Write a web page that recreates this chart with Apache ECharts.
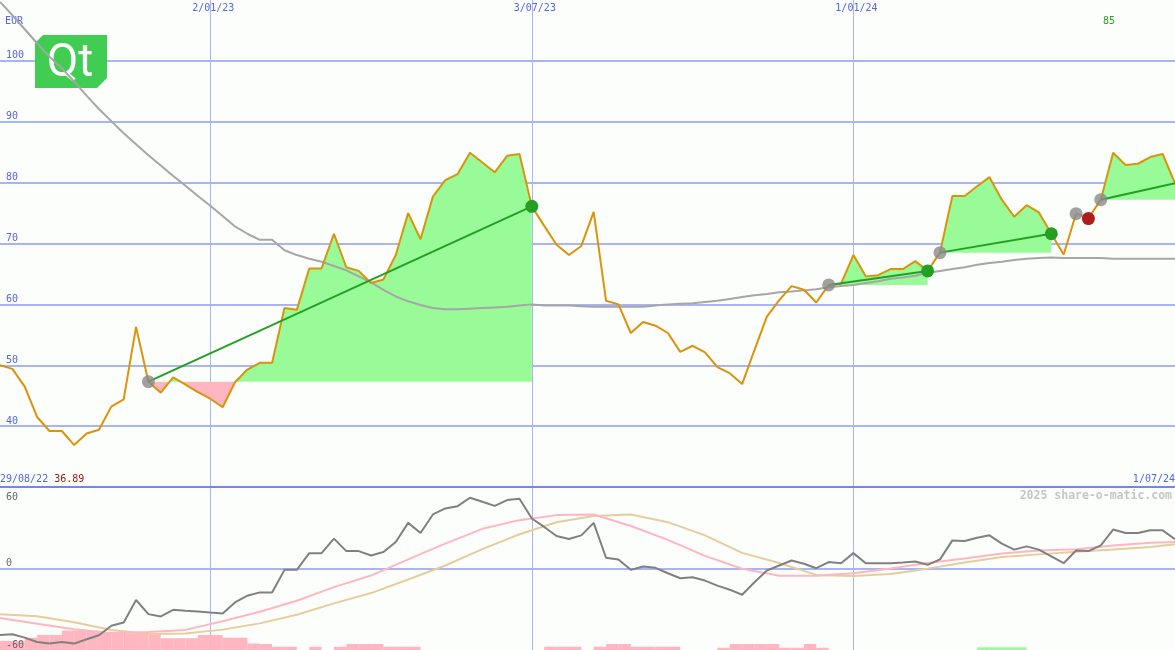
<!DOCTYPE html>
<html><head><meta charset="utf-8">
<script src="https://cdn.jsdelivr.net/npm/echarts@6/dist/echarts.min.js"></script>
<style>html,body{margin:0;padding:0;background:#fcfefc}#c{width:1175px;height:650px}</style>
</head><body><div id="c"></div>
<script>
// ---------- DATA ----------
const price = [
 50.0, 49.4, 46.5, 41.5, 39.2, 39.2, 36.89, 38.8, 39.4, 43.2,
 44.4, 56.3, 47.3, 45.5, 48.0, 46.8, 45.6, 44.5, 43.1, 47.2,
 49.3, 50.4, 50.4, 59.4, 59.1, 65.9, 65.9, 71.6, 66.1, 65.5,
 63.5, 64.1, 68.1, 75.0, 70.7, 77.7, 80.4, 81.4, 84.9, 83.3,
 81.7, 84.4, 84.7, 76.1, 72.9, 69.8, 68.1, 69.6, 75.2, 60.6,
 60.0, 55.3, 57.1, 56.5, 55.3, 52.2, 53.2, 52.1, 49.7, 48.7,
 46.9, 52.5, 58.0, 60.7, 63.0, 62.4, 60.3, 63.2, 63.4, 68.1,
 64.6, 64.8, 65.8, 65.8, 67.1, 65.5, 68.5, 77.8, 77.8, 79.4,
 80.9, 77.2, 74.4, 76.3, 75.1, 71.6, 68.2, 74.9, 74.1, 77.2,
 84.9, 82.9, 83.1, 84.2, 84.7, 79.9
];
const longAverage = [
 109.7, 107.5, 105.2, 102.9, 100.7, 98.8, 96.6, 94.3, 92.1, 90.1,
 88.1, 86.3, 84.5, 82.8, 81.1, 79.5, 77.8, 76.2, 74.5, 72.8,
 71.6, 70.6, 70.6, 68.9, 68.1, 67.5, 67.0, 66.3, 65.6, 64.6,
 63.6, 62.4, 61.3, 60.5, 59.9, 59.4, 59.2, 59.2, 59.3, 59.4,
 59.5, 59.6, 59.8, 60.0, 59.8, 59.8, 59.8, 59.7, 59.6, 59.6,
 59.6, 59.6, 59.6, 59.8, 60.0, 60.1, 60.2, 60.4, 60.6, 60.9,
 61.2, 61.5, 61.7, 62.0, 62.1, 62.3, 62.5, 62.8, 63.0, 63.2,
 63.5, 63.8, 64.2, 64.4, 64.7, 65.2, 65.5, 65.8, 66.1, 66.5,
 66.8, 67.0, 67.3, 67.5, 67.6, 67.7, 67.6, 67.6, 67.6, 67.6,
 67.5, 67.5, 67.5, 67.5, 67.5, 67.5
];
const oscillator = [
 -48.9, -48.4, -50.9, -54.1, -55.3, -54.1, -55.3, -52.1, -49.1, -42.2,
 -39.8, -23.2, -33.6, -35.3, -30.4, -31.1, -31.6, -32.4, -33.1, -25.0,
 -20.0, -17.6, -17.6, -1.0, -1.0, 11.3, 11.3, 22.0, 12.8, 12.8,
 9.6, 12.1, 19.5, 33.6, 26.1, 39.8, 44.2, 45.9, 52.1, 49.1,
 46.1, 50.4, 51.3, 36.8, 30.6, 23.9, 21.7, 24.4, 33.6, 7.9,
 6.7, -1.0, 1.5, 0.5, -3.5, -7.2, -6.4, -8.9, -12.6, -15.6,
 -19.3, -10.1, -1.5, 2.2, 5.9, 3.5, 0.2, 4.7, 3.9, 11.3,
 3.9, 3.9, 3.9, 4.4, 5.2, 2.7, 6.7, 20.7, 20.2, 22.7,
 24.4, 18.3, 13.9, 16.3, 13.9, 8.9, 3.9, 13.3, 12.8, 17.0,
 28.7, 26.1, 26.1, 28.1, 28.1, 21.5
];
const smoothIdx = [0,3,6,9,12,15,18,21,24,27,30,33,36,39,42,45,48,51,54,57,60,63,66,69,72,75,78,81,84,87,90,93,95];
const smoothPink = [-36.5,-40.6,-44.7,-47.5,-46.7,-45.2,-38.9,-31.9,-23.7,-13.7,-5.2,6.7,18.3,29.2,35.6,39.3,39.8,31.3,21.1,9.3,-0.2,-5.3,-5.3,-3.5,0,4.0,7.4,11.0,13.3,14.1,17.0,18.9,19.5];
const smoothTan = [-33.6,-35.2,-39.6,-45.2,-48.3,-47.8,-45.0,-40.4,-34.1,-25.7,-18.1,-8.1,2.2,14.3,25.2,34.1,38.7,39.8,34.1,24.4,11.5,4.1,-4.7,-5.6,-4.1,-0.1,4.4,8.4,10.4,12.4,13.9,15.8,17.8];
const histogram = [
 -6.7, -6.7, -9.1, -11.1, -11.1, -14.3, -14.3, -14.3, -12.8, -12.8,
 -12.4, -12.4, -12.4, -8.7, -8.7, -8.7, -11.1, -11.1, -9.1, -9.1,
 -4.8, -4.4, -2.4, -2.4, 0, -2.4, 0, -2.4, -4.4, -4.4,
 -4.4, -2.4, -2.4, -2.4, 0, 0, 0, 0, 0, 0,
 0, 0, 0, 0, -2.4, -2.4, -2.4, 0, -2.4, -4.4,
 -4.4, -2.4, -2.4, -2.4, -2.4, 0, 0, 0, -1.7, -4.4,
 -4.4, -4.4, -4.4, -1.7, -1.7, -4.4, -1.7, 0, 0, 0,
 0, 0, 0, 0, 0, 0, 0, 0, 0, 2.0,
 2.0, 2.0, 2.0, 0, 0, 0, 0, 0, 0, 0,
 0, 0, 0, 0, 0, 0
];
const tradeEntry = [12, 67, 76, 87, 89];
const tradeExit  = [43, 75, 85, 88, 95];
const tradeClosed = [true, true, true, true, false];
const dateTickIdx = [17, 43, 69];
const dateTickLabels = ['2/01/23', '3/07/23', '1/01/24'];
const rangeTickIdx = [0, 95];
const rangeTickLabels = ['29/08/22', '1/07/24'];
const lowLabel = '36.89';
const highLabel = '85';
const mainTickValues = [40, 50, 60, 70, 80, 90, 100];
const lowerTickValues = [-60, 0, 60];
const currencyLabel = 'EUR';
const creditLabel = '2025 share-o-matic.com';
const logoText = 'Qt';

// ---------- STYLE ----------
const BLUE = '#5464ec', GRIDC = '#a9b5f2', SEPC = '#7585ea';
const GREEN_FILL = '#98fb98', PINK = '#ffb6c1';
const MONO = '"DejaVu Sans Mono", monospace';
const N = price.length - 1;

const chart = echarts.init(document.getElementById('c'));
const series = [];
const visualMaps = [];

// trade fills
tradeEntry.forEach((e, k) => {
  const x = tradeExit[k];
  const base = price[e];
  visualMaps.push({
    type: 'piecewise', show: false, seriesIndex: series.length, dimension: 1,
    pieces: [{gte: 0, lt: base, color: PINK}, {gte: base, lte: 1000, color: GREEN_FILL}]
  });
  series.push({
    type: 'line', xAxisIndex: 0, yAxisIndex: 0, z: 1.5, silent: true,
    data: price.slice(e, x + 1).map((v, j) => [e + j, v]),
    symbol: 'none', lineStyle: {width: 0, opacity: 0},
    areaStyle: {origin: base, opacity: 1}
  });
});

series.push({
  type: 'line', xAxisIndex: 0, yAxisIndex: 0, z: 2, silent: true, symbol: 'none',
  data: longAverage.map((v, i) => [i, v]),
  lineStyle: {color: '#a6a6a6', width: 2}
});
series.push({
  type: 'line', xAxisIndex: 0, yAxisIndex: 0, z: 3, silent: true, symbol: 'none',
  data: price.map((v, i) => [i, v]),
  lineStyle: {color: '#da930a', width: 2}
});
tradeEntry.forEach((e, k) => {
  const x = tradeExit[k];
  const win = price[x] >= price[e];
  series.push({
    type: 'line', xAxisIndex: 0, yAxisIndex: 0, z: 4, silent: true, symbol: 'none',
    data: [[e, price[e]], [x, price[x]]],
    lineStyle: {color: win ? '#23a023' : '#f4a0b0', width: 2}
  });
});
series.push({
  type: 'scatter', xAxisIndex: 0, yAxisIndex: 0, z: 5, silent: true, symbolSize: 13,
  data: tradeEntry.map(e => [e, price[e]]),
  itemStyle: {color: '#8a8a8a'}
});
series.push({
  type: 'scatter', xAxisIndex: 0, yAxisIndex: 0, z: 5, silent: true, symbolSize: 13,
  data: tradeEntry.map((e, k) => ({
    value: [tradeExit[k], price[tradeExit[k]]],
    itemStyle: {color: price[tradeExit[k]] >= price[e] ? '#23a023' : '#b01c1c',
                opacity: tradeClosed[k] ? 1 : 0}
  }))
});

// lower panel
series.push({
  type: 'custom', xAxisIndex: 2, yAxisIndex: 2, z: 1, silent: true,
  data: histogram.map((v, i) => [i, v]),
  renderItem: function (params, api) {
    const i = api.value(0), h = api.value(1);
    if (!h) return null;
    const p0 = api.coord([i, 0]);
    const p1 = api.coord([i + 1, Math.abs(h)]);
    return {type: 'rect', shape: {x: p0[0], y: p1[1], width: p1[0] - p0[0], height: p0[1] - p1[1]},
            style: {fill: h < 0 ? PINK : GREEN_FILL}};
  },
  markLine: {silent: true, symbol: 'none', label: {show: false}, animation: false,
    lineStyle: {color: SEPC, width: 2, type: 'solid'},
    data: [{yAxis: 120}]}
});
series.push({
  type: 'line', xAxisIndex: 2, yAxisIndex: 1, z: 2, silent: true, symbol: 'none',
  data: smoothIdx.map((ix, k) => [ix, smoothTan[k]]),
  lineStyle: {color: '#e6cd9b', width: 2}
});
series.push({
  type: 'line', xAxisIndex: 2, yAxisIndex: 1, z: 3, silent: true, symbol: 'none',
  data: smoothIdx.map((ix, k) => [ix, smoothPink[k]]),
  lineStyle: {color: PINK, width: 2}
});
series.push({
  type: 'line', xAxisIndex: 2, yAxisIndex: 1, z: 4, silent: true, symbol: 'none',
  data: oscillator.map((v, i) => [i, v]),
  lineStyle: {color: '#808080', width: 2}
});

const vSplit = {show: true, lineStyle: {color: GRIDC, width: 1}};

const option = {
  animation: false,
  backgroundColor: '#fcfefc',
  textStyle: {fontFamily: MONO},
  grid: [
    {left: 0, right: 0, top: 0, height: 487, outerBoundsMode: 'none', containLabel: false},
    {left: 0, right: 0, top: 487, height: 163, outerBoundsMode: 'none', containLabel: false}
  ],
  xAxis: [
    {gridIndex: 0, type: 'value', min: 0, max: N, position: 'top',
     axisLine: {show: false},
     axisTick: {show: false, customValues: dateTickIdx},
     axisLabel: {inside: true, margin: 3, color: BLUE, fontSize: 10, fontFamily: MONO,
       customValues: dateTickIdx, padding: [0, 0, 0, 6],
       formatter: v => dateTickLabels[dateTickIdx.indexOf(v)] || ''},
     splitLine: vSplit},
    {gridIndex: 0, type: 'value', min: 0, max: N, position: 'bottom',
     axisLine: {show: false}, axisTick: {show: false}, splitLine: {show: false},
     axisLabel: {inside: true, margin: 3, color: BLUE, fontSize: 10, fontFamily: MONO,
       customValues: rangeTickIdx, alignMinLabel: 'left', alignMaxLabel: 'right',
       formatter: (v) => {
         const k = rangeTickIdx.indexOf(v);
         if (k === 0) return '{d|' + rangeTickLabels[0] + '} {r|' + lowLabel + '}';
         return '{d|' + (rangeTickLabels[k] || '') + '}';
       },
       rich: {d: {color: BLUE, fontSize: 10, fontFamily: MONO},
              r: {color: '#a01818', fontSize: 10, fontFamily: MONO}}}},
    {gridIndex: 1, type: 'value', min: 0, max: N,
     axisLine: {show: false},
     axisTick: {show: false, customValues: dateTickIdx},
     axisLabel: {show: false, customValues: dateTickIdx},
     splitLine: vSplit}
  ],
  yAxis: [
    {gridIndex: 0, type: 'value', min: 30, max: 110, interval: 10, position: 'left',
     axisLine: {show: false}, axisTick: {show: false},
     axisLabel: {inside: true, margin: 6, verticalAlign: 'bottom', color: BLUE, fontSize: 10, fontFamily: MONO,
       formatter: v => mainTickValues.indexOf(v) >= 0 ? String(v) : ''},
     splitLine: {show: true, showMinLine: false, showMaxLine: false, lineStyle: {color: GRIDC, width: 2}}},
    {gridIndex: 1, type: 'value', min: -60, max: 60, interval: 60, position: 'left',
     axisLine: {show: false}, axisTick: {show: false}, axisLabel: {show: false},
     splitLine: {show: true, showMinLine: false, showMaxLine: false, lineStyle: {color: GRIDC, width: 2}}},
    {gridIndex: 1, type: 'value', min: 0, max: 120, show: false, position: 'right', splitLine: {show: false}},
    {gridIndex: 1, type: 'value', min: -60, max: 60, interval: 60, z: 10, position: 'left', offset: 0,
     axisLine: {show: false}, axisTick: {show: false}, splitLine: {show: false},
     axisLabel: {inside: true, margin: 6, verticalAlign: 'bottom', verticalAlignMaxLabel: 'top',
       padding: [5, 0, 0, 0],
       color: '#666666', fontSize: 10, fontFamily: MONO,
       formatter: v => lowerTickValues.indexOf(v) >= 0 ? String(v) : ''}}
  ],
  visualMap: visualMaps,
  graphic: [
    {type: 'polygon', z: 1, silent: true,
     shape: {points: [[35, 43], [43, 35], [107, 35], [107, 78], [97, 88], [35, 88]]},
     style: {fill: '#41cd52'}},
    {type: 'text', z: 1, silent: true, x: 70, y: 64,
     style: {text: logoText, fill: '#ffffff', font: '46px Roboto', align: 'center', verticalAlign: 'middle'}},
    {type: 'text', z: 1, silent: true, x: 5, y: 21,
     style: {text: currencyLabel, fill: BLUE, font: '10px ' + MONO, align: 'left', verticalAlign: 'middle'}},
    {type: 'text', z: 1, silent: true, x: 1109, y: 21,
     style: {text: highLabel, fill: '#22a022', font: '10px ' + MONO, align: 'center', verticalAlign: 'middle'}},
    {type: 'text', z: 6, silent: true, x: 1172, y: 496,
     style: {text: creditLabel, fill: '#c6c6c6', font: 'bold 11.5px ' + MONO, align: 'right', verticalAlign: 'middle'}}
  ],
  series: series
};
chart.setOption(option);
</script>
</body></html>
